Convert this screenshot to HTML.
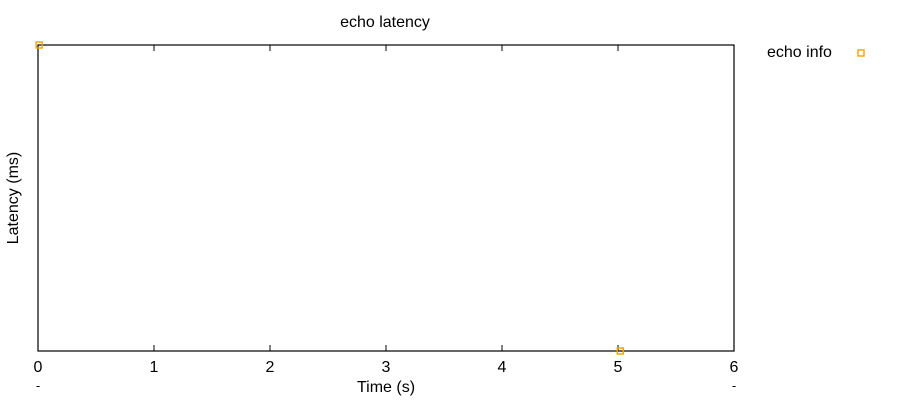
<!DOCTYPE html>
<html><head><meta charset="utf-8"><style>
body{margin:0;background:#fff;}
svg{display:block;font-family:"Liberation Sans",sans-serif;}
</style></head><body>
<svg id="chart" width="900" height="400">
<rect x="0" y="0" width="900" height="400" fill="#fff"/>
<text x="385" y="27" font-size="16" text-anchor="middle">echo latency</text>
<text transform="translate(18,198) rotate(-90)" font-size="16" text-anchor="middle">Latency (ms)</text>
<text x="386" y="392" font-size="16" text-anchor="middle">Time (s)</text>
<g id="ticks"></g>
<rect x="38" y="45" width="696" height="306" fill="none" stroke="#000" stroke-width="1.2"/>
<g id="points"></g>
<text x="767" y="57" font-size="16">echo info</text>
<rect x="858" y="50" width="6" height="6" fill="none" stroke="#f5a000" stroke-width="1.4"/>
</svg>
<script>
const xTicks=[0,1,2,3,4,5,6];
const xValues=[0.01,5.02];
const yValues=[1,0];
const X0=38,X1=734,Y0=351,Y1=45;
const xMin=0,xMax=6,yMin=0,yMax=1;
const sx=v=>X0+(v-xMin)/(xMax-xMin)*(X1-X0);
const sy=v=>Y0-(v-yMin)/(yMax-yMin)*(Y0-Y1);
const NS="http://www.w3.org/2000/svg";
const tg=document.getElementById('ticks');
xTicks.forEach(t=>{
  const x=sx(t);
  [[Y0,Y0-6],[Y1,Y1+6]].forEach(([a,b])=>{
    const l=document.createElementNS(NS,'line');
    l.setAttribute('x1',x);l.setAttribute('x2',x);l.setAttribute('y1',a);l.setAttribute('y2',b);
    l.setAttribute('stroke','#000');l.setAttribute('stroke-width','1');
    
    
    tg.appendChild(l);
  });
  const tx=document.createElementNS(NS,'text');
  tx.setAttribute('x',x);tx.setAttribute('y',372);tx.setAttribute('font-size','16');tx.setAttribute('text-anchor','middle');
  tx.textContent=t;
  
  
  tg.appendChild(tx);
});
[xTicks[0],xTicks[xTicks.length-1]].forEach(t=>{
  const tx=document.createElementNS(NS,'text');
  tx.setAttribute('x',sx(t));tx.setAttribute('y',390);tx.setAttribute('font-size','13');tx.setAttribute('text-anchor','middle');
  tx.textContent='-';
  
  
  tg.appendChild(tx);
});
const pg=document.getElementById('points');
xValues.forEach((xv,i)=>{
  const r=document.createElementNS(NS,'rect');
  r.setAttribute('x',sx(xv)-3);r.setAttribute('y',sy(yValues[i])-3);
  r.setAttribute('width',6);r.setAttribute('height',6);
  r.setAttribute('fill','none');r.setAttribute('stroke','#f5a000');r.setAttribute('stroke-width','1.4');
  
  
  pg.appendChild(r);
});
</script>
</body></html>
